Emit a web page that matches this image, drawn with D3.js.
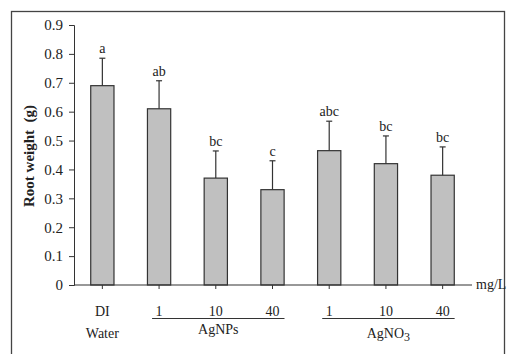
<!DOCTYPE html>
<html>
<head>
<meta charset="utf-8">
<script src="https://cdn.jsdelivr.net/npm/d3@7"></script>
<style>
body { margin: 0; background: #fff; }
svg { display: block; font-family: "Liberation Serif", "Times New Roman", serif; }
</style>
</head>
<body>
<script>
// chart data
var doseLabels = ["DI", "1", "10", "40", "1", "10", "40"];
var means = [0.69, 0.61, 0.37, 0.33, 0.465, 0.42, 0.38];
var errors = [0.095, 0.097, 0.094, 0.10, 0.102, 0.096, 0.098];
var letters = ["a", "ab", "bc", "c", "abc", "bc", "bc"];
var yTicks = [0, 0.1, 0.2, 0.3, 0.4, 0.5, 0.6, 0.7, 0.8, 0.9];
var groups = [
	{name: "AgNPs", from: 1, to: 3},
	{name: "AgNO", sub: "3", from: 4, to: 6}
];

var width = 508,
	height = 354;

var svg = d3.select("body").append("svg")
	.attr("width", width)
	.attr("height", height);

// outer frame
svg.append("rect")
	.attr("x", 11.5)
	.attr("y", 11.5)
	.attr("width", 493)
	.attr("height", 360)
	.attr("fill", "none")
	.attr("stroke", "#444")
	.attr("stroke-width", 1.3);

var idx = d3.range(means.length);

var xScale = d3.scaleBand()
	.domain(idx)
	.range([74, 471]);

var yScale = d3.scaleLinear()
	.domain([0, 0.9])
	.range([285, 25]);

var barW = xScale.bandwidth() * 0.41;
function cx(i){ return xScale(i) + xScale.bandwidth() / 2; }

// y axis
var yAxis = svg.append("g")
	.attr("transform", "translate(74,0)")
	.call(d3.axisLeft(yScale)
		.tickValues(yTicks)
		.tickSize(5)
		.tickPadding(6)
		.tickFormat(function(d){ return d === 0 ? "0" : d3.format(".1f")(d); }));
yAxis.select(".domain").attr("stroke", "#333");
yAxis.selectAll(".tick line").attr("stroke", "#333");
yAxis.selectAll("text")
	.attr("font-family", "Liberation Serif, serif")
	.attr("font-size", 15)
	.attr("fill", "#222");

svg.append("text")
	.attr("transform", "translate(34,156) rotate(-90)")
	.attr("text-anchor", "middle")
	.attr("font-size", 15)
	.attr("font-weight", "bold")
	.attr("fill", "#222")
	.attr("xml:space", "preserve")
	.text("Root weight  (g)");

// bars
svg.selectAll(".bar")
	.data(idx)
	.enter()
	.append("rect")
		.attr("class", "bar")
		.attr("x", function(i){ return cx(i) - barW / 2; })
		.attr("y", function(i){ return yScale(means[i]); })
		.attr("width", barW)
		.attr("height", function(i){ return yScale(0) - yScale(means[i]); })
		.attr("fill", "#c0c0c0")
		.attr("stroke", "#333")
		.attr("stroke-width", 1.2);

// error bars (upper only)
svg.selectAll(".err")
	.data(idx)
	.enter()
	.append("line")
		.attr("class", "err")
		.attr("x1", cx)
		.attr("x2", cx)
		.attr("y1", function(i){ return yScale(means[i]); })
		.attr("y2", function(i){ return yScale(means[i] + errors[i]); })
		.attr("stroke", "#333")
		.attr("stroke-width", 1.2);

svg.selectAll(".cap")
	.data(idx)
	.enter()
	.append("line")
		.attr("class", "cap")
		.attr("x1", function(i){ return cx(i) - 3; })
		.attr("x2", function(i){ return cx(i) + 3; })
		.attr("y1", function(i){ return yScale(means[i] + errors[i]); })
		.attr("y2", function(i){ return yScale(means[i] + errors[i]); })
		.attr("stroke", "#333")
		.attr("stroke-width", 1.2);

svg.selectAll(".letter")
	.data(idx)
	.enter()
	.append("text")
		.attr("class", "letter")
		.attr("x", cx)
		.attr("y", function(i){ return yScale(means[i] + errors[i]) - 5; })
		.attr("text-anchor", "middle")
		.attr("font-size", 14)
		.attr("fill", "#222")
		.text(function(i){ return letters[i]; });

// x axis
svg.append("line")
	.attr("x1", 74)
	.attr("x2", 472)
	.attr("y1", yScale(0))
	.attr("y2", yScale(0))
	.attr("stroke", "#333")
	.attr("stroke-width", 1.2);

svg.selectAll(".xtick")
	.data(idx)
	.enter()
	.append("line")
		.attr("class", "xtick")
		.attr("x1", cx)
		.attr("x2", cx)
		.attr("y1", yScale(0))
		.attr("y2", yScale(0) + 4)
		.attr("stroke", "#333");

svg.append("text")
	.attr("x", 476)
	.attr("y", 289)
	.attr("font-size", 14)
	.attr("fill", "#222")
	.text("mg/L");

svg.selectAll(".dose")
	.data(idx)
	.enter()
	.append("text")
		.attr("class", "dose")
		.attr("x", cx)
		.attr("y", 316)
		.attr("text-anchor", "middle")
		.attr("font-size", 14)
		.attr("fill", "#222")
		.text(function(i){ return doseLabels[i]; });

svg.append("text")
	.attr("x", cx(0))
	.attr("y", 338)
	.attr("text-anchor", "middle")
	.attr("font-size", 14)
	.attr("fill", "#222")
	.text("Water");

// treatment group labels
groups.forEach(function(g){
	var x0 = cx(g.from) - 7,
		x1 = cx(g.to) + 12;
	svg.append("line")
		.attr("x1", x0)
		.attr("x2", x1)
		.attr("y1", 318.5)
		.attr("y2", 318.5)
		.attr("stroke", "#333")
		.attr("stroke-width", 1.2);
	var t = svg.append("text")
		.attr("x", (x0 + x1) / 2)
		.attr("y", g.sub ? 338 : 334)
		.attr("text-anchor", "middle")
		.attr("font-size", 14)
		.attr("fill", "#222")
		.text(g.name);
	if (g.sub){
		t.append("tspan")
			.attr("dy", 3)
			.attr("font-size", 12)
			.text(g.sub);
	}
});
</script>
</body>
</html>
